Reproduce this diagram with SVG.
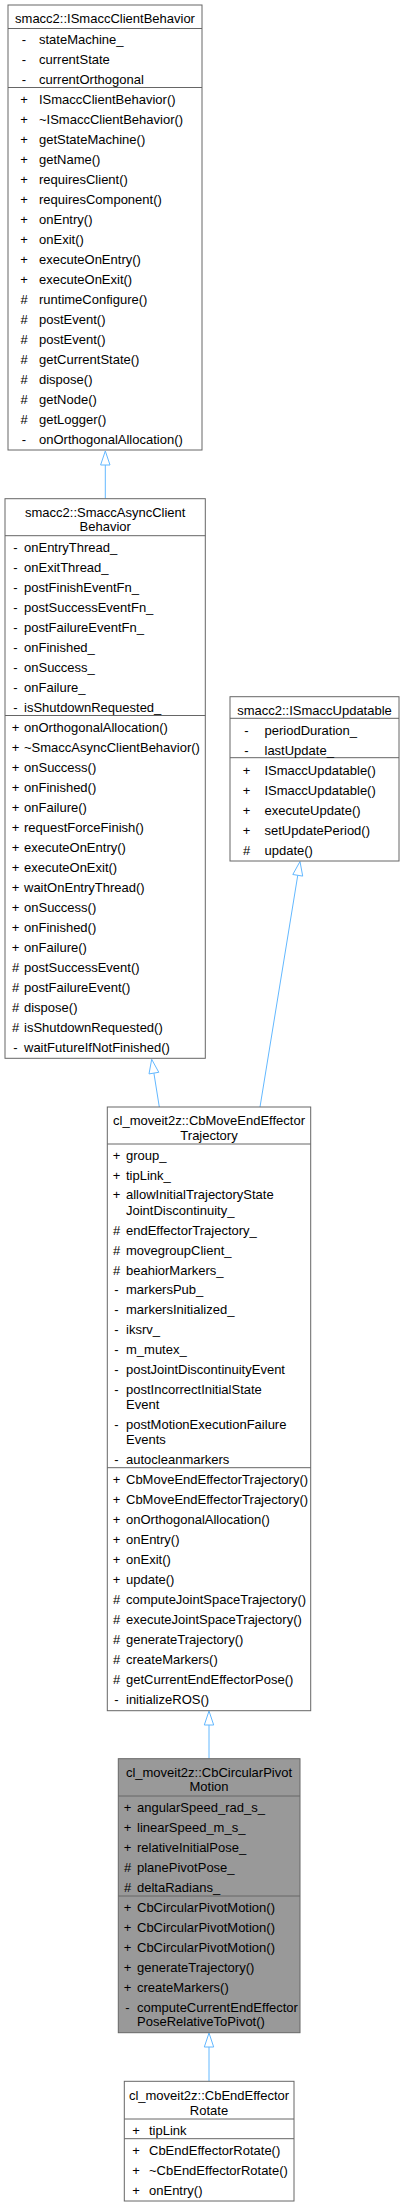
<svg xmlns="http://www.w3.org/2000/svg" width="405" height="2207" viewBox="0 0 405 2207">
<style>
text{font-family:"Liberation Sans",Arial,Helvetica,sans-serif;font-size:13px;fill:#000}
.t{text-anchor:middle}
.s{text-anchor:middle}
.box{fill:#fff;stroke:#666;stroke-width:1}
.cur{fill:#999;stroke:#666;stroke-width:1}
.sep{stroke:#666;stroke-width:1}
.e{stroke:#63b8ff;stroke-width:1;fill:none}
.h{stroke:#63b8ff;stroke-width:1;fill:#fff}
</style>
<rect width="405" height="2207" fill="#fff"/>
<g id="connectors">
<line class="e" x1="105.3" y1="498.7" x2="105.3" y2="465"/>
<polygon class="h" points="105.3,451 100.6,465 110,465"/>
<line class="e" x1="159.3" y1="1107" x2="153.9" y2="1073.1"/>
<polygon class="h" points="151.7,1059.3 158.8,1072.3 149,1073.9"/>
<line class="e" x1="260" y1="1107" x2="297.75" y2="875.3"/>
<polygon class="h" points="300,861.5 302.7,876.1 292.8,874.5"/>
<line class="e" x1="209" y1="1758.7" x2="209" y2="1725"/>
<polygon class="h" points="209,1711 204.3,1725 213.7,1725"/>
<line class="e" x1="209" y1="2081.3" x2="209" y2="2047"/>
<polygon class="h" points="209,2033 204.3,2047 213.7,2047"/>
</g>
<g id="ISmaccClientBehavior">
<rect class="box" x="8" y="5" width="194" height="445"/>
<text class="t" x="105" y="23">smacc2::ISmaccClientBehavior</text>
<line class="sep" x1="8" y1="28.5" x2="202" y2="28.5"/>
<line class="sep" x1="8" y1="87.5" x2="202" y2="87.5"/>
<g class="s"><text class="s" x="24" y="44">-</text><text class="s" x="24" y="64">-</text><text class="s" x="24" y="84">-</text>
<text class="s" x="24" y="104">+</text><text class="s" x="24" y="124">+</text><text class="s" x="24" y="144">+</text><text class="s" x="24" y="164">+</text><text class="s" x="24" y="184">+</text><text class="s" x="24" y="204">+</text><text class="s" x="24" y="224">+</text><text class="s" x="24" y="244">+</text><text class="s" x="24" y="264">+</text><text class="s" x="24" y="284">+</text><text class="s" x="24" y="304">#</text><text class="s" x="24" y="324">#</text><text class="s" x="24" y="344">#</text><text class="s" x="24" y="364">#</text><text class="s" x="24" y="384">#</text><text class="s" x="24" y="404">#</text><text class="s" x="24" y="424">#</text><text class="s" x="24" y="444">-</text></g>
<text x="39" y="44">stateMachine_</text>
<text x="39" y="64">currentState</text>
<text x="39" y="84">currentOrthogonal</text>
<text x="39" y="104">ISmaccClientBehavior()</text>
<text x="39" y="124">~ISmaccClientBehavior()</text>
<text x="39" y="144">getStateMachine()</text>
<text x="39" y="164">getName()</text>
<text x="39" y="184">requiresClient()</text>
<text x="39" y="204">requiresComponent()</text>
<text x="39" y="224">onEntry()</text>
<text x="39" y="244">onExit()</text>
<text x="39" y="264">executeOnEntry()</text>
<text x="39" y="284">executeOnExit()</text>
<text x="39" y="304">runtimeConfigure()</text>
<text x="39" y="324">postEvent()</text>
<text x="39" y="344">postEvent()</text>
<text x="39" y="364">getCurrentState()</text>
<text x="39" y="384">dispose()</text>
<text x="39" y="404">getNode()</text>
<text x="39" y="424">getLogger()</text>
<text x="39" y="444">onOrthogonalAllocation()</text>
</g>
<g id="SmaccAsyncClientBehavior">
<rect class="box" x="5" y="498.7" width="200.3" height="559.6"/>
<text class="t" x="105.2" y="517">smacc2::SmaccAsyncClient</text>
<text class="t" x="105.2" y="531">Behavior</text>
<line class="sep" x1="5" y1="535.7" x2="205.3" y2="535.7"/>
<line class="sep" x1="5" y1="715.5" x2="205.3" y2="715.5"/>
<text class="s" x="15.5" y="552">-</text><text class="s" x="15.5" y="572">-</text><text class="s" x="15.5" y="592">-</text><text class="s" x="15.5" y="612">-</text><text class="s" x="15.5" y="632">-</text><text class="s" x="15.5" y="652">-</text><text class="s" x="15.5" y="672">-</text><text class="s" x="15.5" y="692">-</text><text class="s" x="15.5" y="712">-</text>
<text class="s" x="15.5" y="732">+</text><text class="s" x="15.5" y="752">+</text><text class="s" x="15.5" y="772">+</text><text class="s" x="15.5" y="792">+</text><text class="s" x="15.5" y="812">+</text><text class="s" x="15.5" y="832">+</text><text class="s" x="15.5" y="852">+</text><text class="s" x="15.5" y="872">+</text><text class="s" x="15.5" y="892">+</text><text class="s" x="15.5" y="912">+</text><text class="s" x="15.5" y="932">+</text><text class="s" x="15.5" y="952">+</text><text class="s" x="15.5" y="972">#</text><text class="s" x="15.5" y="992">#</text><text class="s" x="15.5" y="1012">#</text><text class="s" x="15.5" y="1032">#</text><text class="s" x="15.5" y="1052">-</text>
<text x="24" y="552">onEntryThread_</text>
<text x="24" y="572">onExitThread_</text>
<text x="24" y="592">postFinishEventFn_</text>
<text x="24" y="612">postSuccessEventFn_</text>
<text x="24" y="632">postFailureEventFn_</text>
<text x="24" y="652">onFinished_</text>
<text x="24" y="672">onSuccess_</text>
<text x="24" y="692">onFailure_</text>
<text x="24" y="712">isShutdownRequested_</text>
<text x="24" y="732">onOrthogonalAllocation()</text>
<text x="24" y="752">~SmaccAsyncClientBehavior()</text>
<text x="24" y="772">onSuccess()</text>
<text x="24" y="792">onFinished()</text>
<text x="24" y="812">onFailure()</text>
<text x="24" y="832">requestForceFinish()</text>
<text x="24" y="852">executeOnEntry()</text>
<text x="24" y="872">executeOnExit()</text>
<text x="24" y="892">waitOnEntryThread()</text>
<text x="24" y="912">onSuccess()</text>
<text x="24" y="932">onFinished()</text>
<text x="24" y="952">onFailure()</text>
<text x="24" y="972">postSuccessEvent()</text>
<text x="24" y="992">postFailureEvent()</text>
<text x="24" y="1012">dispose()</text>
<text x="24" y="1032">isShutdownRequested()</text>
<text x="24" y="1052">waitFutureIfNotFinished()</text>
</g>
<g id="ISmaccUpdatable">
<rect class="box" x="230" y="696.7" width="169" height="164.3"/>
<text class="t" x="314.5" y="714.5">smacc2::ISmaccUpdatable</text>
<line class="sep" x1="230" y1="718.3" x2="399" y2="718.3"/>
<line class="sep" x1="230" y1="757.7" x2="399" y2="757.7"/>
<text class="s" x="246.5" y="734.5">-</text><text class="s" x="246.5" y="754.5">-</text>
<text class="s" x="246.5" y="774.5">+</text><text class="s" x="246.5" y="794.5">+</text><text class="s" x="246.5" y="814.5">+</text><text class="s" x="246.5" y="834.5">+</text><text class="s" x="246.5" y="854.5">#</text>
<text x="264.5" y="734.5">periodDuration_</text>
<text x="264.5" y="754.5">lastUpdate_</text>
<text x="264.5" y="774.5">ISmaccUpdatable()</text>
<text x="264.5" y="794.5">ISmaccUpdatable()</text>
<text x="264.5" y="814.5">executeUpdate()</text>
<text x="264.5" y="834.5">setUpdatePeriod()</text>
<text x="264.5" y="854.5">update()</text>
</g>
<g id="CbMoveEndEffectorTrajectory">
<rect class="box" x="107.3" y="1107" width="203.4" height="603.7"/>
<text class="t" x="209" y="1125">cl_moveit2z::CbMoveEndEffector</text>
<text class="t" x="209" y="1140">Trajectory</text>
<line class="sep" x1="107.3" y1="1144" x2="310.7" y2="1144"/>
<line class="sep" x1="107.3" y1="1467.7" x2="310.7" y2="1467.7"/>
<text class="s" x="116.5" y="1160">+</text><text class="s" x="116.5" y="1180">+</text><text class="s" x="116.5" y="1199">+</text><text class="s" x="116.5" y="1234.5">#</text><text class="s" x="116.5" y="1254.5">#</text><text class="s" x="116.5" y="1274.5">#</text>
<text class="s" x="116.5" y="1294">-</text><text class="s" x="116.5" y="1314">-</text><text class="s" x="116.5" y="1334">-</text><text class="s" x="116.5" y="1354">-</text><text class="s" x="116.5" y="1374">-</text><text class="s" x="116.5" y="1394">-</text><text class="s" x="116.5" y="1429">-</text><text class="s" x="116.5" y="1464">-</text>
<text class="s" x="116.5" y="1484">+</text><text class="s" x="116.5" y="1504">+</text><text class="s" x="116.5" y="1524">+</text><text class="s" x="116.5" y="1544">+</text><text class="s" x="116.5" y="1564">+</text><text class="s" x="116.5" y="1584">+</text><text class="s" x="116.5" y="1604">#</text><text class="s" x="116.5" y="1624">#</text><text class="s" x="116.5" y="1644">#</text><text class="s" x="116.5" y="1664">#</text><text class="s" x="116.5" y="1684">#</text><text class="s" x="116.5" y="1704">-</text>
<text x="126" y="1160">group_</text>
<text x="126" y="1180">tipLink_</text>
<text x="126" y="1199">allowInitialTrajectoryState</text>
<text x="126" y="1214.5">JointDiscontinuity_</text>
<text x="126" y="1234.5">endEffectorTrajectory_</text>
<text x="126" y="1254.5">movegroupClient_</text>
<text x="126" y="1274.5">beahiorMarkers_</text>
<text x="126" y="1294">markersPub_</text>
<text x="126" y="1314">markersInitialized_</text>
<text x="126" y="1334">iksrv_</text>
<text x="126" y="1354">m_mutex_</text>
<text x="126" y="1374">postJointDiscontinuityEvent</text>
<text x="126" y="1394">postIncorrectInitialState</text>
<text x="126" y="1409">Event</text>
<text x="126" y="1429">postMotionExecutionFailure</text>
<text x="126" y="1444">Events</text>
<text x="126" y="1464">autocleanmarkers</text>
<text x="126" y="1484">CbMoveEndEffectorTrajectory()</text>
<text x="126" y="1504">CbMoveEndEffectorTrajectory()</text>
<text x="126" y="1524">onOrthogonalAllocation()</text>
<text x="126" y="1544">onEntry()</text>
<text x="126" y="1564">onExit()</text>
<text x="126" y="1584">update()</text>
<text x="126" y="1604">computeJointSpaceTrajectory()</text>
<text x="126" y="1624">executeJointSpaceTrajectory()</text>
<text x="126" y="1644">generateTrajectory()</text>
<text x="126" y="1664">createMarkers()</text>
<text x="126" y="1684">getCurrentEndEffectorPose()</text>
<text x="126" y="1704">initializeROS()</text>
</g>
<g id="CbCircularPivotMotion">
<rect class="cur" x="118.3" y="1758.7" width="181.7" height="274"/>
<text class="t" x="209" y="1777">cl_moveit2z::CbCircularPivot</text>
<text class="t" x="209" y="1791">Motion</text>
<line class="sep" x1="118.3" y1="1796" x2="300" y2="1796"/>
<line class="sep" x1="118.3" y1="1896" x2="300" y2="1896"/>
<text class="s" x="127.5" y="1812">+</text><text class="s" x="127.5" y="1832">+</text><text class="s" x="127.5" y="1852">+</text><text class="s" x="127.5" y="1872">#</text><text class="s" x="127.5" y="1892">#</text>
<text class="s" x="127.5" y="1912">+</text><text class="s" x="127.5" y="1932">+</text><text class="s" x="127.5" y="1952">+</text><text class="s" x="127.5" y="1972">+</text><text class="s" x="127.5" y="1992">+</text><text class="s" x="127.5" y="2012">-</text>
<text x="137" y="1812">angularSpeed_rad_s_</text>
<text x="137" y="1832">linearSpeed_m_s_</text>
<text x="137" y="1852">relativeInitialPose_</text>
<text x="137" y="1872">planePivotPose_</text>
<text x="137" y="1892">deltaRadians_</text>
<text x="137" y="1912">CbCircularPivotMotion()</text>
<text x="137" y="1932">CbCircularPivotMotion()</text>
<text x="137" y="1952">CbCircularPivotMotion()</text>
<text x="137" y="1972">generateTrajectory()</text>
<text x="137" y="1992">createMarkers()</text>
<text x="137" y="2012">computeCurrentEndEffector</text>
<text x="137" y="2026">PoseRelativeToPivot()</text>
</g>
<g id="CbEndEffectorRotate">
<rect class="box" x="124.3" y="2081.3" width="169.7" height="119.7"/>
<text class="t" x="209" y="2099.5">cl_moveit2z::CbEndEffector</text>
<text class="t" x="209" y="2114.5">Rotate</text>
<line class="sep" x1="124.3" y1="2119" x2="294" y2="2119"/>
<line class="sep" x1="124.3" y1="2138.7" x2="294" y2="2138.7"/>
<text class="s" x="136" y="2134.5">+</text>
<text class="s" x="136" y="2154.5">+</text><text class="s" x="136" y="2174.5">+</text><text class="s" x="136" y="2194.5">+</text>
<text x="149" y="2134.5">tipLink</text>
<text x="149" y="2154.5">CbEndEffectorRotate()</text>
<text x="149" y="2174.5">~CbEndEffectorRotate()</text>
<text x="149" y="2194.5">onEntry()</text>
</g>
</svg>
